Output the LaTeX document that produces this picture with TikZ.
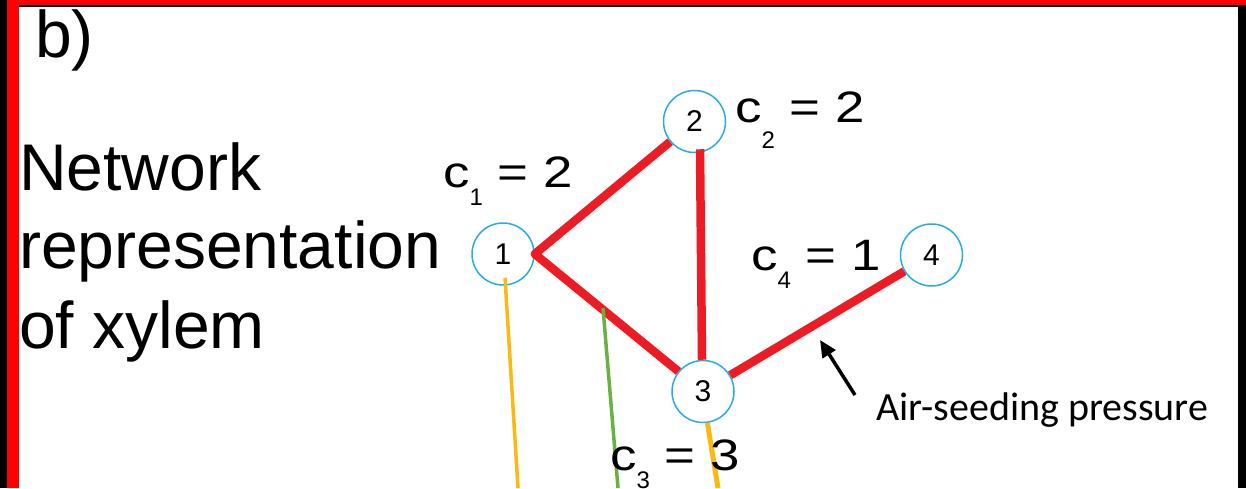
\documentclass[tikz,border=0pt]{standalone}
\usepackage{fontspec}
\setmainfont{Liberation Sans}
\newfontfamily\labfont[FakeStretch=1.2]{Liberation Sans}
\newfontfamily\calfont{Carlito}
\usetikzlibrary{arrows.meta}
\definecolor{edgered}{HTML}{ED1C24}
\definecolor{framered}{HTML}{FF0000}
\definecolor{vcyan}{HTML}{29ABE2}
\definecolor{lineyel}{HTML}{FDB913}
\definecolor{linegreen}{HTML}{6AB043}
\newcommand{\subf}{\normalfont\fontsize{24}{24}\selectfont}
\tikzset{
  vtx/.style={circle, draw=vcyan, line width=1.5pt, minimum size=62pt, inner sep=0pt, font=\fontsize{30}{30}\selectfont},
  redge/.style={draw=edgered, line width=8.5pt, line join=round},
  lab/.style={anchor=base west, inner sep=0pt, font=\labfont\fontsize{44}{44}\selectfont},
  bigtxt/.style={anchor=base west, inner sep=0pt, font=\fontsize{66}{79}\selectfont},
  thinline/.style={line width=3.5pt},
}
\begin{document}
\begin{tikzpicture}[x=1pt,y=-1pt]
\useasboundingbox (0,0) rectangle (1246,488);
% frame
\fill[black] (0,0) rectangle (1246,488);
\fill[framered] (7,0) rectangle (19,488);
\fill[framered] (7,0) rectangle (1246,5);
\fill[white] (19,7) rectangle (1238,488);

% texts
\node[bigtxt] (b) at (35,57) {b)};
\node[bigtxt] (t1) at (19,190) {Network};
\node[bigtxt] (t2) at (19,268) {representation};
\node[bigtxt] (t3) at (19,348) {of xylem};

% vertices
\node[vtx] (n1) at (503,254) {1};
\node[vtx] (n2) at (694.5,121.5) {2};
\node[vtx] (n3) at (703,391.5) {3};
\node[vtx] (n4) at (931.5,255) {4};

% red edges
\draw[redge] (n2) -- (n1.east) -- (n3);
\draw[redge] ([xshift=5.5pt,yshift=4pt]n2.south) -- ([xshift=-1pt]n3.north);
\draw[redge] (n3) -- (n4);

% coloured lines downwards
\coordinate (y1) at (518,488);
\draw[lineyel, thinline] ([xshift=2pt,yshift=8pt]n1.south) -- (y1);
\coordinate (g0) at (603,308);
\coordinate (g1) at (618,488);
\draw[linegreen, thinline] (g0) -- (g1);
\coordinate (y3) at (718,488);
\draw[lineyel, line width=5pt] (n3.-82) -- (y3);

% labels
\node[lab] (c1) at (443,187) {c\raisebox{-18pt}{\subf 1} = 2};
\node[lab] (c2) at (735,122) {c\raisebox{-26pt}{\subf 2} = 2};
\node[lab] (c3) at (610,470) {c\raisebox{-18pt}{\subf 3} = 3};
\node[lab] (c4) at (751,270) {c\raisebox{-18pt}{\subf 4} = 1};

% air-seeding arrow
\coordinate (atip) at (820,340);
\coordinate (atail) at (855,395);
\draw[black, line width=3.5pt, -{Triangle[length=17pt,width=15pt]}] (atail) -- (atip);
\node[anchor=base west, inner sep=0pt, font=\calfont\fontsize{40}{40}\selectfont] (air) at (876,420) {Air-seeding pressure};
\end{tikzpicture}
\end{document}
